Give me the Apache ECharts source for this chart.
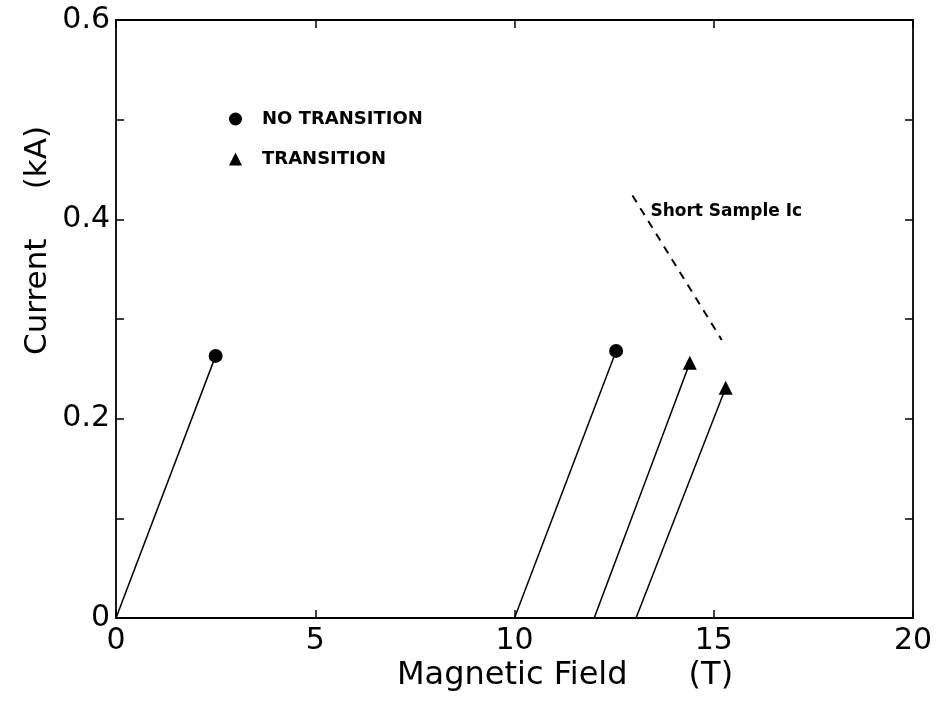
<!DOCTYPE html>
<html lang="en">
<head>
<meta charset="UTF-8">
<title>Current vs Magnetic Field</title>
<script src="https://cdn.jsdelivr.net/npm/echarts@6/dist/echarts.min.js"></script>
</head>
<body style="margin:0">
<div id="chart" style="width:936px;height:710px"></div>
<script>
    // ramp lines: each one starts on the field axis and ends at a measured point
    var rampStartX = [0, 10.0, 12.0, 13.05];
    var pointX = [2.5, 12.55, 14.4, 15.3];
    var pointY = [0.263, 0.268, 0.256, 0.231];
    var pointKind = ['NO TRANSITION', 'NO TRANSITION', 'TRANSITION', 'TRANSITION'];
    var shortSampleX = [12.96, 15.2];
    var shortSampleY = [0.424, 0.279];
    var shortSampleLabel = 'Short Sample Ic';
    var xTicks = [0, 5, 10, 15, 20];
    var yTicks = [0, 0.2, 0.4, 0.6];

    var font = 'DejaVu Sans';
    var chart = echarts.init(document.getElementById('chart'));

    var series = [];
    for (var i = 0; i < pointX.length; i++) {
        series.push({
            type: 'line',
            data: [[rampStartX[i], 0], [pointX[i], pointY[i]]],
            symbol: 'none',
            lineStyle: {color: '#000', width: 1.5},
            silent: true
        });
    }
    var noTrans = [], trans = [];
    for (var j = 0; j < pointX.length; j++) {
        if (pointKind[j] == 'NO TRANSITION') noTrans.push([pointX[j], pointY[j]]);
        else trans.push([pointX[j], pointY[j]]);
    }
    series.push({name: 'NO TRANSITION', type: 'scatter', symbol: 'circle', symbolSize: 14,
        itemStyle: {color: '#000', opacity: 1}, data: noTrans});
    series.push({name: 'TRANSITION', type: 'scatter', symbol: 'triangle', symbolSize: 14,
        itemStyle: {color: '#000', opacity: 1}, data: trans});
    series.push({
        type: 'line', symbol: 'none',
        data: [[shortSampleX[0], shortSampleY[0]], [shortSampleX[1], shortSampleY[1]]],
        lineStyle: {color: '#000', width: 2, type: [8, 7]}
    });
    series.push({
        type: 'scatter', symbolSize: 0, itemStyle: {opacity: 1},
        data: [[shortSampleX[0] + 0.45, shortSampleY[0] - 0.016]],
        label: {show: true, position: 'right', distance: 0, formatter: shortSampleLabel,
            color: '#000', fontFamily: font, fontWeight: 'bold', fontSize: 17}
    });

    var axisLine = {onZero: false, lineStyle: {color: '#000', width: 1.8}};
    var tick = {inside: true, length: 8, lineStyle: {color: '#000', width: 1.5}};
    var option = {
        animation: false,
        grid: {left: 116, right: 23, top: 20, bottom: 92},
        legend: {
            orient: 'vertical', left: 224, top: 105, itemGap: 22,
            itemWidth: 13, itemHeight: 13,
            textStyle: {fontFamily: font, fontWeight: 'bold', fontSize: 18, color: '#000', padding: [0, 0, 0, 15]},
            data: [{name: 'NO TRANSITION', icon: 'circle'}, {name: 'TRANSITION', icon: 'triangle'}]
        },
        xAxis: [{
            type: 'value', min: 0, max: 20, interval: 5, position: 'bottom',
            axisLine: axisLine, axisTick: tick,
            axisLabel: {color: '#000', fontFamily: font, fontSize: 30, margin: 8,
                formatter: function (v) { return xTicks.indexOf(v) >= 0 ? String(v) : ''; }},
            splitLine: {show: false}
        }, {
            type: 'value', min: 0, max: 20, interval: 5, position: 'top',
            axisLine: axisLine, axisTick: tick,
            axisLabel: {show: false}, splitLine: {show: false}
        }],
        yAxis: [{
            type: 'value', min: 0, max: 0.6, interval: 0.1, position: 'left',
            axisLine: {show: true, onZero: false, lineStyle: {color: '#000', width: 1.8}},
            axisTick: tick,
            axisLabel: {color: '#000', fontFamily: font, fontSize: 30, margin: 6,
                formatter: function (v) {
                    var r = Math.round(v * 10) / 10;
                    return yTicks.indexOf(r) >= 0 ? (r === 0 ? '0' : r.toFixed(1)) : '';
                }},
            splitLine: {show: false}
        }, {
            type: 'value', min: 0, max: 0.6, interval: 0.1, position: 'right',
            axisLine: {show: true, onZero: false, lineStyle: {color: '#000', width: 1.8}},
            axisTick: tick,
            axisLabel: {show: false}, splitLine: {show: false}
        }],
        graphic: [{
            type: 'text', left: 397, top: 660,
            style: {text: 'Magnetic Field      (T)', font: '32px "DejaVu Sans"', fill: '#000'}
        }, {
            type: 'text', rotation: Math.PI / 2, x: 22, y: 355,
            style: {text: 'Current     (kA)', font: '31px "DejaVu Sans"', fill: '#000'}
        }],
        series: series
    };
    chart.setOption(option);
</script>
</body>
</html>
